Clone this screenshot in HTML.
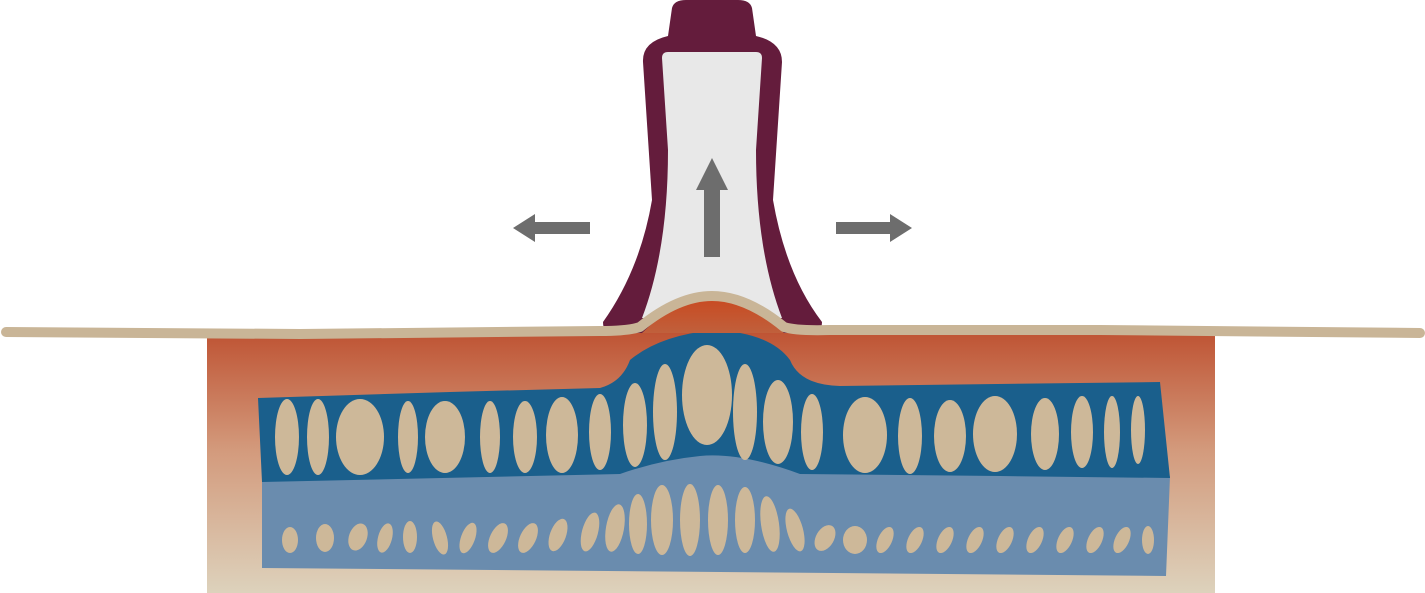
<!DOCTYPE html>
<html><head><meta charset="utf-8"><style>html,body{margin:0;padding:0;background:#fff}svg{display:block}</style></head>
<body>
<svg width="1425" height="593" viewBox="0 0 1425 593" xmlns="http://www.w3.org/2000/svg">
<defs>
<linearGradient id="tg" x1="0" y1="0" x2="0" y2="1">
<stop offset="0" stop-color="#bf5434"/><stop offset="0.45" stop-color="#d39a7c"/><stop offset="1" stop-color="#ddd2bc"/>
</linearGradient>
<linearGradient id="bg" x1="0" y1="0" x2="0" y2="1"><stop offset="0" stop-color="#c9481f"/><stop offset="1" stop-color="#c0603c"/></linearGradient>
</defs>
<rect x="207" y="333" width="1008" height="260" fill="url(#tg)"/>
<!-- light blue layer -->
<path d="M262 480 L620 472 Q660 456 700 452 Q740 450 800 470 L1170 476 L1166 576 L262 568 Z" fill="#6a8cae"/>
<g fill="#cdb899">
<ellipse cx="290" cy="540" rx="8" ry="13"/><ellipse cx="325" cy="538" rx="9" ry="14"/><ellipse cx="358" cy="537" rx="9" ry="14" transform="rotate(20 358 537)"/>
<ellipse cx="385" cy="538" rx="7" ry="15" transform="rotate(15 385 538)"/><ellipse cx="410" cy="537" rx="7" ry="16"/><ellipse cx="440" cy="538" rx="7" ry="17" transform="rotate(-15 440 538)"/>
<ellipse cx="468" cy="538" rx="7" ry="16" transform="rotate(20 468 538)"/><ellipse cx="498" cy="538" rx="8" ry="16" transform="rotate(25 498 538)"/><ellipse cx="528" cy="538" rx="8" ry="16" transform="rotate(25 528 538)"/>
<ellipse cx="558" cy="535" rx="8" ry="17" transform="rotate(20 558 535)"/><ellipse cx="590" cy="532" rx="8" ry="20" transform="rotate(15 590 532)"/><ellipse cx="615" cy="528" rx="9" ry="24" transform="rotate(10 615 528)"/>
<ellipse cx="638" cy="524" rx="9" ry="30"/><ellipse cx="662" cy="520" rx="11" ry="35"/><ellipse cx="690" cy="520" rx="10" ry="36"/><ellipse cx="718" cy="520" rx="10" ry="35"/>
<ellipse cx="745" cy="520" rx="10" ry="33"/><ellipse cx="770" cy="524" rx="9" ry="28" transform="rotate(-8 770 524)"/><ellipse cx="795" cy="530" rx="8" ry="22" transform="rotate(-15 795 530)"/>
<ellipse cx="825" cy="538" rx="9" ry="14" transform="rotate(30 825 538)"/><ellipse cx="855" cy="540" rx="12" ry="14"/><ellipse cx="885" cy="540" rx="7" ry="14" transform="rotate(25 885 540)"/>
<ellipse cx="915" cy="540" rx="7" ry="14" transform="rotate(25 915 540)"/><ellipse cx="945" cy="540" rx="7" ry="14" transform="rotate(25 945 540)"/><ellipse cx="975" cy="540" rx="7" ry="14" transform="rotate(25 975 540)"/>
<ellipse cx="1005" cy="540" rx="7" ry="14" transform="rotate(25 1005 540)"/><ellipse cx="1035" cy="540" rx="7" ry="14" transform="rotate(25 1035 540)"/><ellipse cx="1065" cy="540" rx="7" ry="14" transform="rotate(25 1065 540)"/>
<ellipse cx="1095" cy="540" rx="7" ry="14" transform="rotate(25 1095 540)"/><ellipse cx="1122" cy="540" rx="7" ry="14" transform="rotate(25 1122 540)"/><ellipse cx="1148" cy="540" rx="6" ry="14"/>
</g>
<!-- dark blue layer -->
<path d="M258 398 L450 392 L600 388 Q622 382 630 360 Q660 335 715 330 Q770 333 790 360 Q800 385 840 386 L1160 382 L1170 478 L1000 476 L800 474 Q740 452 700 456 Q660 460 620 474 L262 482 Z" fill="#1a5f8c"/>
<g fill="#cdb899">
<ellipse cx="287" cy="437" rx="12" ry="38"/><ellipse cx="318" cy="437" rx="11" ry="38"/><ellipse cx="360" cy="437" rx="24" ry="38"/><ellipse cx="408" cy="437" rx="10" ry="36"/>
<ellipse cx="445" cy="437" rx="20" ry="36"/><ellipse cx="490" cy="437" rx="10" ry="36"/><ellipse cx="525" cy="437" rx="12" ry="36"/><ellipse cx="562" cy="435" rx="16" ry="38"/>
<ellipse cx="600" cy="432" rx="11" ry="38"/><ellipse cx="635" cy="425" rx="12" ry="42"/><ellipse cx="665" cy="412" rx="12" ry="48"/><ellipse cx="707" cy="395" rx="25" ry="50"/>
<ellipse cx="745" cy="412" rx="12" ry="48"/><ellipse cx="778" cy="422" rx="15" ry="42"/><ellipse cx="812" cy="432" rx="11" ry="38"/><ellipse cx="865" cy="435" rx="22" ry="38"/>
<ellipse cx="910" cy="436" rx="12" ry="38"/><ellipse cx="950" cy="436" rx="16" ry="36"/><ellipse cx="995" cy="434" rx="22" ry="38"/><ellipse cx="1045" cy="434" rx="14" ry="36"/>
<ellipse cx="1082" cy="432" rx="11" ry="36"/><ellipse cx="1112" cy="432" rx="8" ry="36"/><ellipse cx="1138" cy="430" rx="7" ry="34"/>
</g>
<!-- cup -->
<path d="M603 322 Q640 270 652 200 L643 62 Q642 42 668 36 L672 8 Q674 0 686 0 L738 0 Q750 0 752 8 L756 36 Q782 42 782 62 L773 200 Q786 275 822 322 Q822 333 810 333 L636 333 L612 333 Q603 333 603 322 Z" fill="#641c3c"/>
<path d="M662 58 Q662 52 668 52 L756 52 Q762 52 762 58 L756 150 Q756 250 782 318 L642 318 Q668 250 668 150 Z" fill="#e8e8e8"/>
<!-- skin bump & line -->
<path d="M642 333 Q680 296 712 296 Q745 296 784 333 Z" fill="url(#bg)"/>
<path d="M6 332 L300 334 L600 331 Q628 331 640 327 Q678 296 712 296 Q746 296 784 327 Q796 331 830 330 L1100 330 L1420 333" fill="none" stroke="#c9b597" stroke-width="10" stroke-linecap="round" stroke-linejoin="round"/>
<!-- arrows -->
<g fill="#6d6d6d">
<path d="M704 257 L704 190 L696 190 L712 158 L728 190 L720 190 L720 257 Z"/>
<path d="M590 222 L535 222 L535 214 L513 228 L535 242 L535 234 L590 234 Z"/>
<path d="M836 222 L890 222 L890 214 L912 228 L890 242 L890 234 L836 234 Z"/>
</g>
</svg>
</body></html>
